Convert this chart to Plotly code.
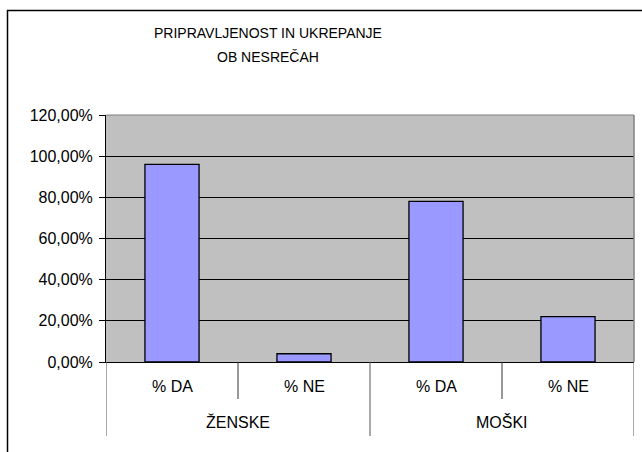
import plotly.graph_objects as go

groups = ["ŽENSKE", "ŽENSKE", "MOŠKI", "MOŠKI"]
answers = ["% DA", "% NE", "% DA", "% NE"]
values = [0.96, 0.04, 0.78, 0.22]
group_names = ["ŽENSKE", "MOŠKI"]
title_lines = ["PRIPRAVLJENOST IN UKREPANJE", "OB NESREČAH"]

FONT = "Liberation Sans, Arial, sans-serif"
W, H = 642, 452
L, R, T, B = 106, 8, 115, 90
PW, PH = W - L - R, H - T - B

def py(pix):  # pixel y -> paper y
    return (H - B - pix) / PH

def px(pix):  # pixel x -> paper x
    return (pix - L) / PW

xs = list(range(len(values)))

fig = go.Figure(go.Bar(
    x=xs, y=values,
    marker=dict(color="#9999FF", line=dict(color="#000000", width=1.3)),
    width=0.41,
    hoverinfo="skip",
))

shapes = []
annotations = []

for i, a in enumerate(answers):
    annotations.append(dict(x=i, y=py(386), xref="x", yref="paper", text=a,
                            showarrow=False, font=dict(size=16, color="#000"),
                            xanchor="center", yanchor="middle"))
n_groups = len(group_names)
per = len(values) // n_groups
for g, name in enumerate(group_names):
    center = g * per + (per - 1) / 2
    annotations.append(dict(x=center, y=py(422), xref="x", yref="paper", text=name,
                            showarrow=False, font=dict(size=16, color="#000"),
                            xanchor="center", yanchor="middle"))
    for k in range(1, per):
        xd = g * per + k - 0.5
        shapes.append(dict(type="line", xref="x", yref="paper", x0=xd, x1=xd,
                           y0=0, y1=py(399), line=dict(color="#333333", width=1)))
for g in range(n_groups + 1):
    xd = g * per - 0.5
    shapes.append(dict(type="line", xref="x", yref="paper", x0=xd, x1=xd,
                       y0=0, y1=py(436), line=dict(color="#555555", width=1)))

shapes.append(dict(type="line", xref="paper", yref="paper", x0=0, x1=1, y0=1, y1=1,
                   line=dict(color="#808080", width=1)))
shapes.append(dict(type="line", xref="paper", yref="paper", x0=1, x1=1, y0=0, y1=1,
                   line=dict(color="#808080", width=1.5)))

shapes.append(dict(type="rect", xref="paper", yref="paper",
                   x0=px(7.5), x1=px(W + 5), y0=py(10.5), y1=py(H + 5),
                   line=dict(color="#000000", width=1.5), fillcolor="rgba(0,0,0,0)"))

for j, line in enumerate(title_lines):
    annotations.append(dict(x=px(268), y=py(33 + 24 * j), xref="paper", yref="paper",
                            text=line, showarrow=False,
                            font=dict(size=14, color="#000"),
                            xanchor="center", yanchor="middle"))

fig.update_layout(
    width=W, height=H,
    margin=dict(l=L, r=R, t=T, b=B, pad=0),
    paper_bgcolor="#FFFFFF",
    plot_bgcolor="#C0C0C0",
    separators=",.",
    font=dict(family=FONT, color="#000000"),
    showlegend=False,
    shapes=shapes,
    annotations=annotations,
    xaxis=dict(range=[-0.5, len(values) - 0.5], showticklabels=False, showgrid=False,
               zeroline=False, showline=True, linecolor="#000000", linewidth=1,
               ticks="", fixedrange=True),
    yaxis=dict(range=[0, 1.2], dtick=0.2, tick0=0, tickformat=".2%",
               showgrid=True, gridcolor="#000000", gridwidth=1,
               zeroline=False, showline=True, linecolor="#000000", linewidth=1,
               ticks="outside", ticklen=6, tickcolor="#000000", tickwidth=1,
               ticklabelstandoff=3,
               tickfont=dict(size=16, color="#000000"), fixedrange=True),
)

fig.write_html("out.html", config={"displayModeBar": False},
               post_script="document.body.style.margin='0';document.body.style.overflow='hidden';")
